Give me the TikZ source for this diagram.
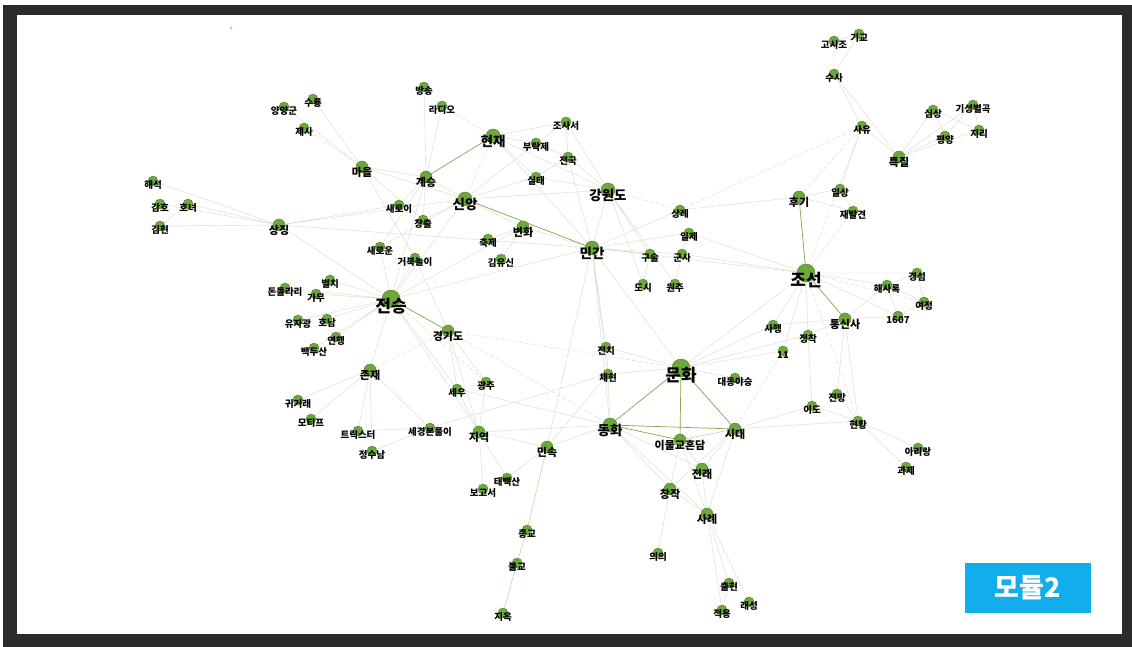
\documentclass[tikz,border=0pt]{standalone}
\usepackage{fontspec}
\newfontfamily\kr{Noto Sans CJK KR}
\definecolor{leaf}{HTML}{6EA83C}
\definecolor{leafdark}{HTML}{4E7F27}
\definecolor{wire}{HTML}{D6DDC6}
\definecolor{wiremid}{HTML}{BFD196}
\definecolor{wirestrong}{HTML}{7FA84A}
\definecolor{frame}{HTML}{2B2B2B}
\definecolor{badge}{HTML}{12AEEB}
\pgfdeclarelayer{back}
\pgfdeclarelayer{edges}
\pgfsetlayers{back,edges,main}

\begin{document}
\begin{tikzpicture}[
			x=1pt, y=-1pt,
			dot/.style={
				circle,
				fill=leaf,
				draw=leafdark,
				line width=0.4pt,
				inner sep=0pt
			},
			term/.style={
				dot,
				minimum size=10pt,
				label={[font=\kr\bfseries\fontsize{9.5}{10}\selectfont, yshift=-4pt]center:#1}
			},
			keyterm/.style={
				dot,
				minimum size=12pt,
				label={[font=\kr\bfseries\fontsize{11}{12}\selectfont, yshift=-5pt]center:#1}
			},
			hubterm/.style={
				dot,
				minimum size=14pt,
				label={[font=\kr\bfseries\fontsize{13.5}{14}\selectfont, yshift=-5pt]center:#1}
			},
			coreterm/.style={
				dot,
				minimum size=18pt,
				label={[font=\kr\bfseries\fontsize{17}{18}\selectfont, yshift=-7pt]center:#1}
			},
			link/.style={
				draw=wire,
				line width=0.4pt
			},
			dlink/.style={
				link,
				dash pattern=on 4pt off 2pt
			},
			mlink/.style={
				draw=wiremid,
				line width=0.5pt
			},
			tie/.style={
				draw=wirestrong,
				line width=0.7pt
			}
			]
			
			\useasboundingbox (0,0) rectangle (1132,647);
			\begin{pgfonlayer}{back}
				\fill[white] (0,0) rectangle (1132,647);
				\fill[frame] (3,5) rectangle (1132,647);
				\fill[white] (17,15) rectangle (1122,634);
				\fill[gray!45] (231,28) circle (1.5);
			\end{pgfonlayer}
			
			% top left
			\node (yangyang) [term=양양군] at (284,107) {};
			\node (suryong) [term=수룡] at (313,99) {};
			\node (jesa) [term=제사] at (304,128) {};
			\node (maeul) [keyterm=마을] at (362,167) {};
			\node (haeseok) [term=해석] at (153,181) {};
			\node (gamho) [term=감호] at (160,204) {};
			\node (honyeo) [term=호녀] at (188,204) {};
			\node (gimhyeon) [term=김현] at (160,226) {};
			\node (sangjing) [keyterm=상징] at (279,225) {};
			\node (saeroi) [term=새로이] at (399,205) {};
			\node (changchul) [term=창출] at (423,220) {};
			\node (saeroun) [term=새로운] at (380,247) {};
			\node (geobuk) [term=거북놀이] at (415,258) {};
			
			% top middle
			\node (bangsong) [term=방송] at (424,87) {};
			\node (radio) [term=라디오] at (442,106) {};
			\node (hyeonjae) [hubterm=현재] at (493,136) {};
			\node (josaseo) [term=조사서] at (566,122) {};
			\node (burakje) [term=부락제] at (536,143) {};
			\node (jeonguk) [term=전국] at (568,157) {};
			\node (gyeseung) [keyterm=계승] at (426,177) {};
			\node (siltae) [term=실태] at (536,177) {};
			\node (gangwon) [hubterm=강원도] at (608,190) {};
			\node (sinang) [hubterm=신앙] at (465,199) {};
			\node (byeonhwa) [keyterm=변화] at (523,227) {};
			\node (chukje) [term=축제] at (488,239) {};
			\node (mingan) [hubterm=민간] at (592,248) {};
			\node (gimyusin) [term=김유신] at (501,259) {};
			\node (gusul) [term=구술] at (650,254) {};
			\node (sangrye) [term=상례] at (680,210) {};
			\node (ilje) [term=일제] at (689,233) {};
			\node (gunsa) [term=군사] at (682,254) {};
			\node (dosi) [term=도시] at (643,284) {};
			\node (wonju) [term=원주] at (675,284) {};
			
			% top right
			\node (gosijo) [term=고시조] at (834,41) {};
			\node (gigyo) [term=기교] at (859,34) {};
			\node (susa) [term=수사] at (834,74) {};
			\node (sayu) [term=사유] at (862,126) {};
			\node (teukjil) [keyterm=특질] at (899,157) {};
			\node (simsang) [term=심상] at (933,110) {};
			\node (giseong) [term=기성별곡] at (973,105) {};
			\node (pyeongyang) [term=평양] at (945,136) {};
			\node (jiri) [term=지리] at (979,130) {};
			\node (hugi) [keyterm=후기] at (799,197) {};
			\node (ilsang) [term=일상] at (840,189) {};
			\node (jaebal) [term=재발견] at (853,211) {};
			\node (joseon) [coreterm=조선] at (806,273) {};
			\node (gyeongseom) [term=경섬] at (917,273) {};
			\node (haesarok) [term=해사록] at (887,285) {};
			\node (yeojeong) [term=여정] at (924,302) {};
			\node (y1607) [term=1607] at (898,316) {};
			\node (tongsinsa) [keyterm=통신사] at (845,319) {};
			\node (sahaeng) [term=사행] at (773,325) {};
			\node (jeongchak) [term=정착] at (808,335) {};
			\node (n11) [term=11] at (783,351) {};
			
			% left
			\node (beolchi) [term=벌치] at (330,280) {};
			\node (dondol) [term=돈돌라리] at (285,288) {};
			\node (gamu) [term=가무] at (316,294) {};
			\node (jeonseung) [coreterm=전승] at (391,299) {};
			\node (yujagwang) [term=유자광] at (298,320) {};
			\node (honam) [term=호남] at (327,319) {};
			\node (yeonhaeng) [term=연행] at (336,337) {};
			\node (baekdu) [term=백두산] at (314,348) {};
			\node (gyeonggi) [keyterm=경기도] at (448,331) {};
			\node (jonjae) [keyterm=존재] at (370,370) {};
			\node (seu) [term=세우] at (457,389) {};
			\node (gwangju) [term=광주] at (486,382) {};
			\node (gwigeorae) [term=귀거래] at (298,400) {};
			\node (motif) [term=모티프] at (311,419) {};
			\node (trickster) [term=트릭스터] at (358,431) {};
			\node (segyeong) [term=세경본풀이] at (430,428) {};
			\node (jeongsu) [term=정수남] at (372,451) {};
			\node (jiyeok) [keyterm=지역] at (479,432) {};
			
			% middle and bottom
			\node (jeonchi) [term=전치] at (606,347) {};
			\node (chehyeon) [term=체현] at (608,374) {};
			\node (munhwa) [coreterm=문화] at (681,368) {};
			\node (daedong) [term=대동야승] at (735,378) {};
			\node (donghwa) [hubterm=동화] at (610,425) {};
			\node (minsok) [keyterm=민속] at (547,447) {};
			\node (imul) [keyterm=이물교혼담] at (680,440) {};
			\node (sidae) [keyterm=시대] at (735,429) {};
			\node (jeonrae) [keyterm=전래] at (702,469) {};
			\node (changjak) [keyterm=창작] at (670,489) {};
			\node (sarye) [keyterm=사례] at (707,514) {};
			\node (taebaek) [term=태백산] at (507,478) {};
			\node (bogoseo) [term=보고서] at (483,489) {};
			\node (jonggyo) [term=종교] at (527,530) {};
			\node (bulgyo) [term=불교] at (517,563) {};
			\node (jiok) [term=지옥] at (503,613) {};
			\node (uiui) [term=의의] at (658,553) {};
			\node (chulhyeon) [term=출현] at (729,583) {};
			\node (jeokyong) [term=적용] at (722,610) {};
			\node (raeseong) [term=래성] at (749,602) {};
			\node (ido) [term=이도] at (812,406) {};
			\node (jeonmang) [term=전망] at (837,394) {};
			\node (hyeonhwang) [term=현황] at (858,421) {};
			\node (arirang) [term=아리랑] at (918,448) {};
			\node (gwaje) [term=과제] at (906,467) {};
			
			\node (badge) [fill=badge, text=white, minimum width=126pt, minimum height=50pt,
				font=\kr\bfseries\fontsize{27}{28}\selectfont] at (1028,588) {모듈2};
			
			\begin{pgfonlayer}{edges}
				% strong ties
				\draw [tie] (hyeonjae) -- (gyeseung);
				\draw [tie] (sinang) -- (mingan);
				\draw [tie] (jeonseung) -- (gyeonggi);
				\draw [tie] (hugi) -- (joseon);
				\draw [tie] (joseon) -- (tongsinsa);
				\draw [tie] (munhwa) -- (donghwa);
				\draw [tie] (munhwa) -- (sidae);
				\draw [tie] (munhwa) -- (imul);
				\draw [tie] (donghwa) -- (sidae);
				\draw [tie] (donghwa) -- (imul);
				\draw [mlink] (minsok) -- (jonggyo);
				\draw [mlink] (jonggyo) -- (bulgyo);
				\draw [mlink] (bulgyo) -- (jiok);
				\draw [mlink] (imul) -- (sidae);
				
				% faint links
				\draw [link] (maeul) -- (yangyang) (maeul) -- (suryong) (maeul) -- (gyeseung)
					(maeul) -- (sinang) (maeul) -- (geobuk) (maeul) -- (changchul);
				\draw [dlink] (maeul) -- (jesa);
				\draw [link] (sangjing) -- (haeseok) (sangjing) -- (gamho) (sangjing) -- (honyeo)
					(sangjing) -- (gimhyeon) (gimhyeon) -- (honyeo) (sangjing) -- (saeroi)
					(sangjing) -- (mingan) (sangjing) -- (jeonseung) (sangjing) -- (sinang);
				\draw [link] (bangsong) -- (gyeseung) (radio) -- (gyeseung);
				\draw [dlink] (radio) -- (hyeonjae) (hyeonjae) -- (sinang);
				\draw [link] (hyeonjae) -- (josaseo) (hyeonjae) -- (burakje) (hyeonjae) -- (siltae)
					(hyeonjae) -- (gangwon) (hyeonjae) -- (mingan);
				\draw [link] (josaseo) -- (jeonguk) (josaseo) -- (gangwon) (josaseo) -- (burakje)
					(burakje) -- (jeonguk) (burakje) -- (sinang) (jeonguk) -- (gangwon)
					(jeonguk) -- (siltae) (siltae) -- (sinang) (siltae) -- (gangwon) (jeonguk) -- (mingan);
				\draw [link] (gyeseung) -- (sinang) (gyeseung) -- (jeonseung) (gyeseung) -- (saeroi)
					(gyeseung) -- (changchul) (gyeseung) -- (saeroun);
				\draw [link] (sinang) -- (gangwon) (sinang) -- (jeonseung) (sinang) -- (saeroun)
					(sinang) -- (changchul) (sinang) -- (byeonhwa);
				\draw [link] (gangwon) -- (mingan) (gangwon) -- (dosi) (gangwon) -- (wonju)
					(gangwon) -- (gusul);
				\draw [dlink] (gangwon) -- (sangrye);
				\draw [link] (byeonhwa) -- (mingan) (byeonhwa) -- (chukje) (byeonhwa) -- (gimyusin)
					(byeonhwa) -- (jeonseung);
				\draw [link] (mingan) -- (gusul) (mingan) -- (gunsa) (mingan) -- (munhwa)
					(mingan) -- (jeonchi) (mingan) -- (joseon) (mingan) -- (donghwa)
					(mingan) -- (ilje) (mingan) -- (sangrye) (mingan) -- (chehyeon)
					(mingan) -- (jeonseung) (mingan) -- (minsok);
				\draw [link] (gusul) -- (dosi) (gunsa) -- (wonju) (gunsa) -- (joseon)
					(ilje) -- (joseon) (sangrye) -- (hugi) (ilje) -- (gunsa);
				\draw [dlink] (sayu) -- (sangrye) (sayu) -- (joseon) (sayu) -- (hugi)
					(jaebal) -- (joseon);
				\draw [link] (hugi) -- (ilsang) (hugi) -- (jaebal) (ilsang) -- (jaebal)
					(ilsang) -- (sayu);
				\draw [link] (susa) -- (gosijo) (susa) -- (gigyo) (gosijo) -- (gigyo)
					(susa) -- (sayu) (susa) -- (teukjil) (sayu) -- (teukjil);
				\draw [link] (teukjil) -- (simsang) (teukjil) -- (pyeongyang) (teukjil) -- (giseong)
					(teukjil) -- (jiri) (simsang) -- (jiri) (giseong) -- (pyeongyang)
					(giseong) -- (jiri) (simsang) -- (pyeongyang);
				\draw [link] (joseon) -- (haesarok) (joseon) -- (gyeongseom) (joseon) -- (y1607)
					(joseon) -- (sahaeng) (joseon) -- (jeongchak) (joseon) -- (n11)
					(joseon) -- (munhwa);
				\draw [dlink] (joseon) -- (yeojeong) (joseon) -- (hyeonhwang) (n11) -- (sidae);
				\draw [link] (tongsinsa) -- (haesarok) (tongsinsa) -- (y1607) (tongsinsa) -- (jeongchak)
					(tongsinsa) -- (sahaeng) (tongsinsa) -- (hyeonhwang) (tongsinsa) -- (jeonmang)
					(haesarok) -- (gyeongseom) (haesarok) -- (yeojeong) (haesarok) -- (y1607)
					(gyeongseom) -- (yeojeong) (yeojeong) -- (y1607);
				\draw [link] (jeongchak) -- (ido) (jeongchak) -- (munhwa) (sahaeng) -- (munhwa)
					(n11) -- (munhwa) (daedong) -- (munhwa);
				\draw [link] (ido) -- (sidae) (ido) -- (hyeonhwang) (jeonmang) -- (hyeonhwang)
					(hyeonhwang) -- (arirang) (hyeonhwang) -- (gwaje) (hyeonhwang) -- (sidae);
				\draw [link] (jeonseung) -- (beolchi) (jeonseung) -- (dondol) (jeonseung) -- (gamu)
					(jeonseung) -- (yujagwang) (jeonseung) -- (honam) (jeonseung) -- (yeonhaeng)
					(jeonseung) -- (baekdu) (jeonseung) -- (jonjae) (jeonseung) -- (jiyeok)
					(jeonseung) -- (seu) (jeonseung) -- (geobuk) (jeonseung) -- (saeroun)
					(dondol) -- (gamu);
				\draw [dlink] (jeonseung) -- (gwangju);
				\draw [link] (gyeonggi) -- (gwangju) (gyeonggi) -- (seu) (gyeonggi) -- (jiyeok)
					(gyeonggi) -- (geobuk);
				\draw [dlink] (gyeonggi) -- (donghwa) (gyeonggi) -- (munhwa) (gyeonggi) -- (jonjae);
				\draw [link] (jonjae) -- (gwigeorae) (jonjae) -- (motif) (jonjae) -- (trickster)
					(jonjae) -- (jeongsu) (jonjae) -- (segyeong)
					(segyeong) -- (trickster) (segyeong) -- (jeongsu) (segyeong) -- (chehyeon);
				\draw [link] (jiyeok) -- (gwangju) (jiyeok) -- (seu) (jiyeok) -- (taebaek)
					(jiyeok) -- (bogoseo) (jiyeok) -- (minsok) (jiyeok) -- (donghwa);
				\draw [link] (minsok) -- (taebaek) (minsok) -- (donghwa) (minsok) -- (chehyeon);
				\draw [link] (donghwa) -- (changjak) (donghwa) -- (sarye) (donghwa) -- (jeonrae)
					(donghwa) -- (chehyeon) (donghwa) -- (seu);
				\draw [link] (munhwa) -- (chehyeon) (munhwa) -- (jeonchi) (jeonchi) -- (chehyeon);
				\draw [link] (imul) -- (jeonrae) (imul) -- (changjak) (imul) -- (sarye)
					(sidae) -- (jeonrae) (sidae) -- (changjak) (sidae) -- (sarye)
					(changjak) -- (sarye) (changjak) -- (uiui) (jeonrae) -- (sarye);
				\draw [link] (sarye) -- (chulhyeon) (sarye) -- (jeokyong) (sarye) -- (raeseong)
					(chulhyeon) -- (jeokyong);
			\end{pgfonlayer}
			
		\end{tikzpicture}
\end{document}
